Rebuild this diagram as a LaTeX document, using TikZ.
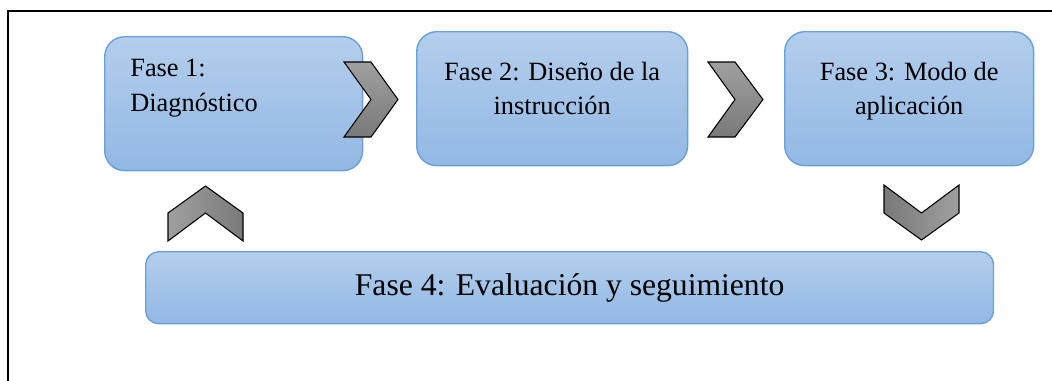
\documentclass[tikz,border=0pt]{standalone}
\usepackage{fontspec}
\setmainfont{Liberation Serif}
\usetikzlibrary{positioning,calc}
\definecolor{boxtop}{RGB}{180,206,236}
\definecolor{boxbottom}{RGB}{146,184,228}
\definecolor{boxline}{RGB}{106,160,214}
\tikzset{
        % Phase boxes
        fase_box/.style={rectangle, rounded corners=0.4cm, draw=boxline, line width=0.8pt, top color=boxtop, bottom color=boxbottom, inner sep=0pt},
        % Phase texts
        fase_label/.style={inner sep=0pt, font=\fontsize{15}{19.5}\selectfont},
        % Grey chevrons
        chevron_h/.style={draw=black, line width=0.6pt, top color=gray!75, bottom color=gray!95!black, line join=miter},
        chevron_v/.style={draw=black, line width=0.6pt, left color=gray!75, right color=gray!95!black, line join=miter}
}
\begin{document}
\begin{tikzpicture}[x=0.02cm, y=-0.02cm]
            \useasboundingbox (0,0) rectangle (1052,380);
            % frame
            \draw[line width=1.4pt] (8,390) -- (8,11) -- (1060,11);
            % boxes
            \node[fase_box, anchor=north west, minimum width=5.16cm, minimum height=2.68cm] (f1) at (104,36) {};
            \node[fase_box, anchor=north west, minimum width=5.42cm, minimum height=2.68cm] (f2) at (416,31) {};
            \node[fase_box, anchor=north west, minimum width=4.98cm, minimum height=2.68cm] (f3) at (784,31) {};
            \node[fase_box, rounded corners=0.26cm, anchor=north west, minimum width=16.96cm, minimum height=1.44cm] (f4) at (145,251) {};
            % texts
            \node[fase_label, anchor=north west, align=left] (t1) at ($(f1.north west)+(26,23)$) {Fase 1:\\Diagnóstico};
            \node[fase_label, anchor=north, align=center] (t2) at ($(f2.north)+(0,31)$) {Fase 2: Diseño de la\\instrucción};
            \node[fase_label, anchor=north, align=center] (t3) at ($(f3.north)+(0,31)$) {Fase 3: Modo de\\aplicación};
            \node[fase_label, font=\fontsize{18}{22}\selectfont] (t4) at (f4.center) {Fase 4: Evaluación y seguimiento};
            % chevrons
            \draw[chevron_h] (344,62) -- (371,62) -- (398,99.5) -- (371,137) -- (344,137) -- (371,99.5) -- cycle;
            \draw[chevron_h] (708,62) -- (735,62) -- (763,99.5) -- (735,137) -- (708,137) -- (735,99.5) -- cycle;
            \draw[chevron_v, left color=gray!95!black, right color=gray!75] (884,185) -- (921.5,213) -- (959,185) -- (959,213) -- (921.5,240) -- (884,213) -- cycle;
            \draw[chevron_v] (205.5,186) -- (243,213) -- (243,241) -- (205.5,213) -- (168,241) -- (168,213) -- cycle;
\end{tikzpicture}
\end{document}
